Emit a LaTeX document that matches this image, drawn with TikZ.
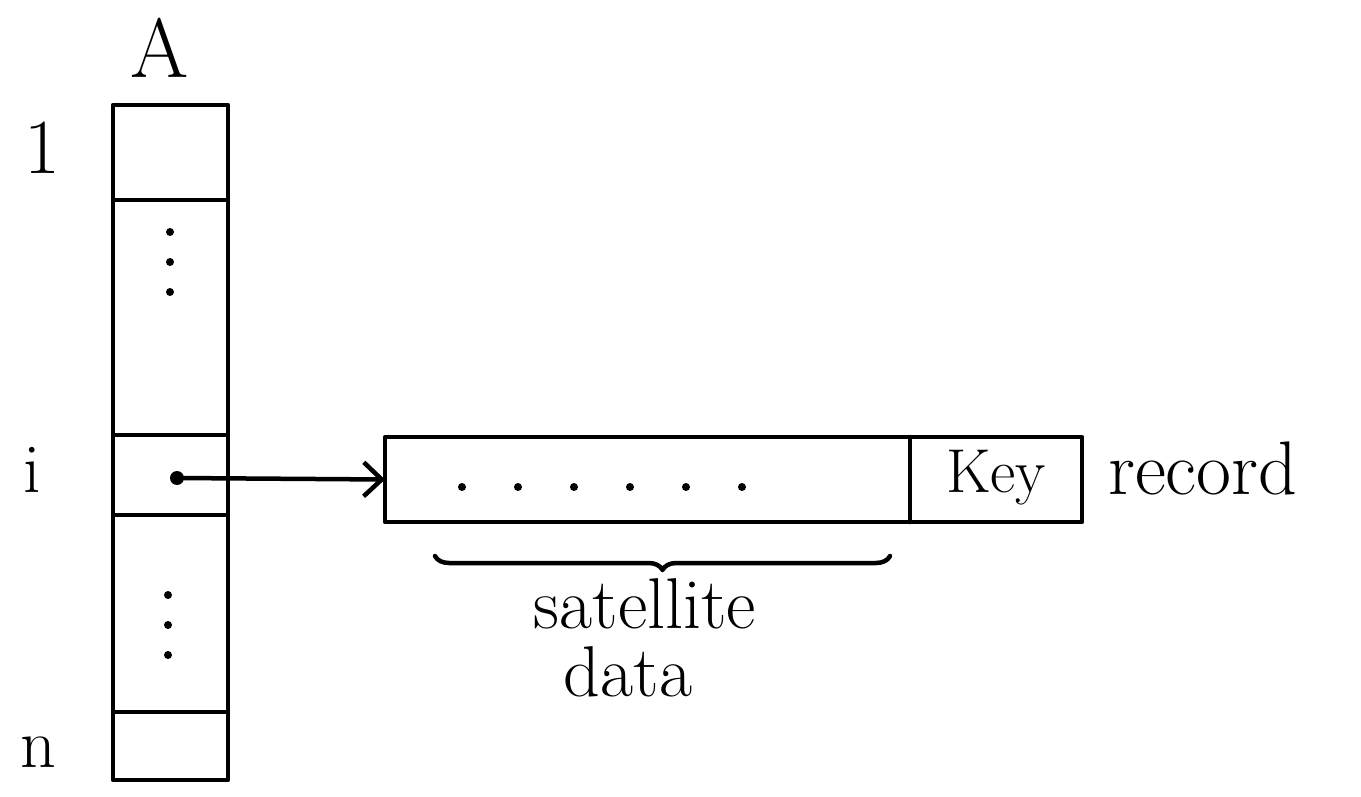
\documentclass[tikz,border=0pt]{standalone}
\usetikzlibrary{arrows.meta,decorations.pathreplacing}
\begin{document}
\begin{tikzpicture}[x=1pt,y=-1pt,
  ink/.style={line width=4.5pt,line cap=round,line join=round},
  cell/.style={ink,draw,rectangle,minimum width=115pt,inner sep=0pt,outer sep=0pt},
  lbl/.style={inner sep=0pt,font=\fontsize{#1}{#1}\selectfont},
  lbl/.default=50,
  dotmark/.style={circle,fill,inner sep=0pt,minimum size=8pt}]
\useasboundingbox (0,0) rectangle (1361,797);

% the array A, one cell per node
\node[cell,minimum height=95pt]  (c1)  at (170.5,152.5) {};
\node[cell,minimum height=235pt] (cu)  at (170.5,317.5) {};
\node[cell,minimum height=80pt]  (ci)  at (170.5,475)   {};
\node[cell,minimum height=197pt] (cl)  at (170.5,613.5) {};
\node[cell,minimum height=68pt]  (cn)  at (170.5,746)   {};

% elisions inside the array
\foreach \y in {232,262,292} \node[dotmark] at (170,\y) {};
\foreach \y in {595,625,655} \node[dotmark] at (168,\y) {};

% array name and indices
\node[lbl=84] (nameA) at (160,48) {A};
\node[lbl=78] (ix1) at (42,148) {1};
\node[lbl=70] (ixi) at (32,470) {i};
\node[lbl=70] (ixn) at (38,752) {n};

% the record
\node[ink,draw,rectangle,minimum width=697pt,minimum height=85pt,inner sep=0pt,outer sep=0pt]
  (rec) at (733.5,479.5) {};
\coordinate (kt) at (910,437);
\coordinate (kb) at (910,522);
\draw[ink] (kt) -- (kb);
\node[lbl=62] (key) at (996,478) {Key};
\foreach \x in {462,518,574,630,686,742} \node[dotmark] at (\x,487) {};
\node[lbl=76,anchor=west] (recname) at (1108,468) {record};

% pointer from A[i] to the record
\node[circle,fill,inner sep=0pt,minimum size=14pt] (ptr) at (177,478) {};
\draw[ink,-{Straight Barb[length=18pt,width=34pt,line width=4.5pt]}] (ptr) -- (rec.west);

% satellite data
\coordinate (bl) at (435,556);
\coordinate (br) at (890,556);
\draw[ink,decorate,decoration={brace,mirror,amplitude=14pt}] (bl) -- (br);
\node[lbl=72] (sat) at (645,604) {satellite};
\node[lbl=72] (dat) at (628,672) {data};
\end{tikzpicture}
\end{document}
